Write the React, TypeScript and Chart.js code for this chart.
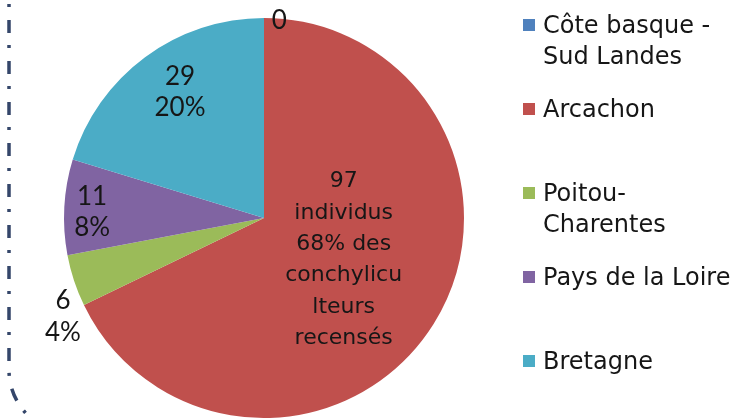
import React, { useEffect, useRef } from "react";
import { Chart, registerables } from "chart.js";

Chart.register(...registerables);

const categories = ["Côte basque - Sud Landes", "Arcachon", "Poitou-Charentes", "Pays de la Loire", "Bretagne"];
const legendLines = [["Côte basque -", "Sud Landes"], ["Arcachon"], ["Poitou-", "Charentes"], ["Pays de la Loire"], ["Bretagne"]];
const values = [0, 97, 6, 11, 29];
const colors = ["#4f81bd", "#c0504d", "#9bbb59", "#8064a2", "#4bacc6"];

// label placement (style): radius factor and angular nudge in degrees
const labelRadius = [0.99, 0.45, 1.12, 0.86, 0.757];
const labelShift = [4.4, -4.4, -7.9, -1.1, 2.8];

const total = values.reduce((a, b) => a + b, 0);
function labelFor(i: number): string[] {
  const v = values[i];
  const pct = Math.round((v / total) * 100);
  if (v === 0) return [`${v}`];
  if (i === 1) return [`${v}`, "individus", `${pct}% des`, "conchylicu", "lteurs", "recensés"];
  return [`${v}`, `${pct}%`];
}

const borderPlugin = {
  id: "dashBorder",
  beforeDraw(chart: any) {
    const ctx = chart.ctx;
    ctx.save();
    ctx.strokeStyle = "#34466a";
    ctx.lineWidth = 3.5;
    ctx.lineCap = "butt";
    ctx.setLineDash([13, 12, 3, 13]);
    ctx.beginPath();
    ctx.moveTo(9, -21);
    ctx.lineTo(9, 370);
    ctx.arc(73, 370, 64, Math.PI, Math.PI * 0.5, true);
    ctx.stroke();
    ctx.restore();
  },
};

const labelPlugin = {
  id: "sliceLabels",
  afterDatasetsDraw(chart: any) {
    const ctx = chart.ctx;
    const meta = chart.getDatasetMeta(0);
    ctx.save();
    ctx.fillStyle = "#161616";
    ctx.textAlign = "center";
    ctx.textBaseline = "middle";
    meta.data.forEach((arc: any, i: number) => {
      const p = arc.getProps(["x", "y", "startAngle", "endAngle", "outerRadius"], true);
      const mid = (p.startAngle + p.endAngle) / 2 + (labelShift[i] * Math.PI) / 180;
      const r = p.outerRadius * labelRadius[i];
      const cx = p.x + Math.cos(mid) * r;
      const cy = p.y + Math.sin(mid) * r;
      const lines = labelFor(i);
      const lh = 31.3;
      ctx.font = i === 1 ? "22px 'DejaVu Sans'" : "26px Lato";
      lines.forEach((t, k) => {
        ctx.fillText(t, cx, cy + (k - (lines.length - 1) / 2) * lh);
      });
    });
    ctx.restore();
  },
};

export default function App() {
  const ref = useRef<HTMLCanvasElement>(null);
  useEffect(() => {
    if (!ref.current) return;
    const chart = new Chart(ref.current, {
      type: "pie",
      data: {
        labels: categories,
        datasets: [
          {
            data: values,
            backgroundColor: colors,
            borderWidth: 0,
          },
        ],
      },
      options: {
        responsive: false,
        animation: false,
        layout: { padding: { left: 64, right: 274, top: 18, bottom: 0 } },
        plugins: { legend: { display: false }, tooltip: { enabled: false } },
      },
      plugins: [borderPlugin, labelPlugin],
    });
    return () => chart.destroy();
  }, []);

  return (
    <div style={{ position: "absolute", left: 0, top: 0, width: 738, height: 418, background: "#fff", overflow: "hidden" }}>
      <canvas ref={ref} width={738} height={418} style={{ position: "absolute", left: 0, top: 0 }} />
      <div style={{ position: "absolute", left: 523, top: 9.5, fontFamily: "'DejaVu Sans', sans-serif", fontSize: 24, color: "#161616" }}>
        {legendLines.map((lines, i) => (
          <div key={i} style={{ height: 84.2, position: "relative" }}>
            <div style={{ position: "absolute", left: 0, top: 9, width: 12, height: 12, background: colors[i] }} />
            <div style={{ position: "absolute", left: 20, top: 0, lineHeight: "31px", whiteSpace: "nowrap" }}>
              {lines.map((t, k) => (
                <div key={k}>{t}</div>
              ))}
            </div>
          </div>
        ))}
      </div>
    </div>
  );
}
